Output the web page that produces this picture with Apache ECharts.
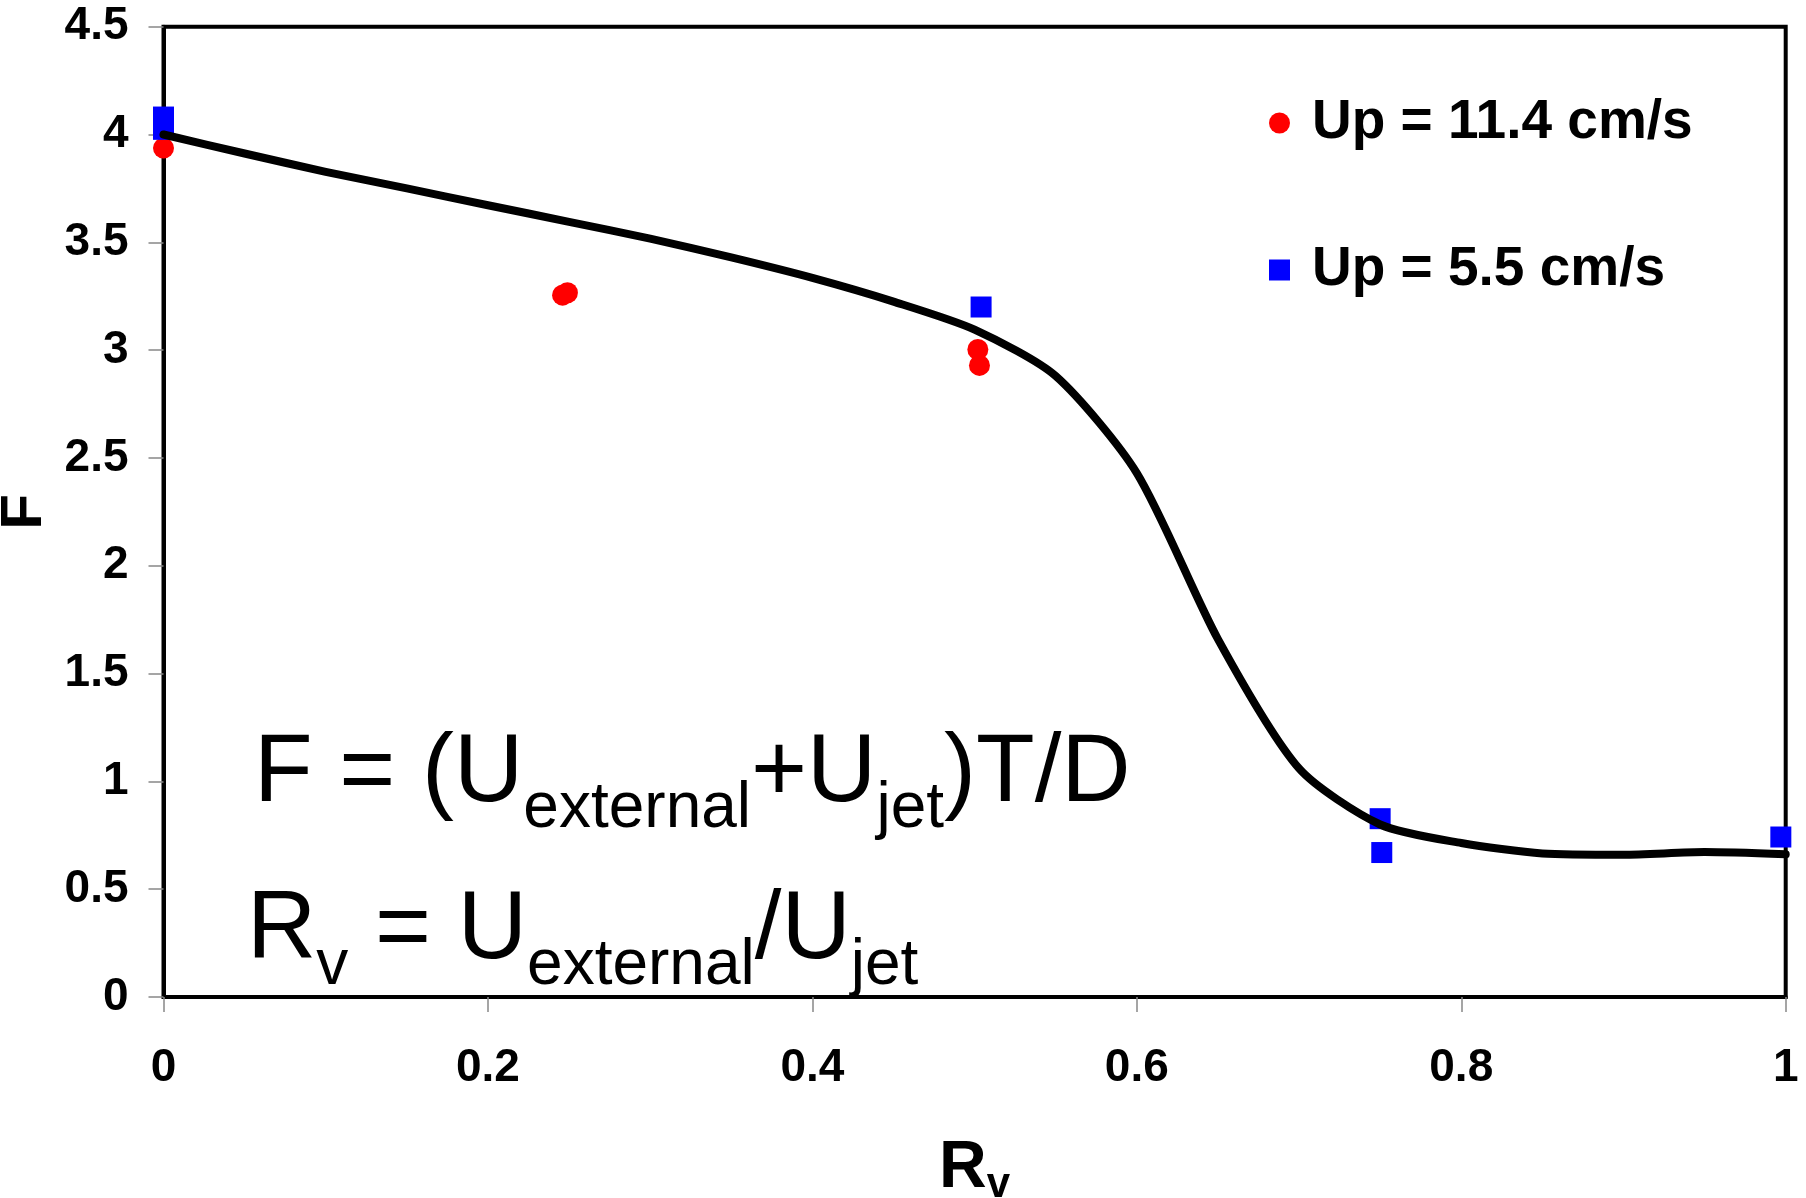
<!DOCTYPE html>
<html>
<head>
<meta charset="utf-8">
<script src="https://cdn.jsdelivr.net/npm/echarts@6/dist/echarts.min.js"></script>
<style>
  html, body { margin: 0; padding: 0; background: #fff; }
  #chart { width: 1806px; height: 1198px; }
</style>
</head>
<body>
<div id="chart"></div>
<script>
  // fitted curve, every 0.05
  const fitRv = [0, 0.05, 0.1, 0.15, 0.2, 0.25, 0.3, 0.35, 0.4, 0.45, 0.5, 0.55, 0.6, 0.65, 0.7, 0.75, 0.8, 0.85, 0.9, 0.95, 1.0];
  const fitF = [4.0, 3.912, 3.827, 3.75, 3.672, 3.595, 3.517, 3.43, 3.335, 3.225, 3.095, 2.88, 2.43, 1.66, 1.06, 0.8, 0.714, 0.666, 0.66, 0.672, 0.662];

  // Up = 11.4 cm/s
  const highRv = [0, 0.246, 0.249, 0.502, 0.503];
  const highF = [3.937, 3.255, 3.266, 3.003, 2.929];

  // Up = 5.5 cm/s
  const lowRv = [0, 0, 0.504, 0.75, 0.751, 0.997];
  const lowF = [4.081, 4.024, 3.2, 0.827, 0.67, 0.742];

  const seriesNames = ['Up = 11.4 cm/s', 'Up = 5.5 cm/s'];

  const font = "'Liberation Sans', Arial, sans-serif";
  const pairs = (xs, ys) => xs.map((x, i) => [x, ys[i]]);

  const chart = echarts.init(document.getElementById('chart'));

  const formulaRich = {
    m: { fontSize: 96, verticalAlign: 'top', fontFamily: font, color: '#000' },
    s: { fontSize: 64, verticalAlign: 'top', padding: [50, 0, 0, 0], fontFamily: font, color: '#000' },
  };

  const option = {
    animation: false,
    backgroundColor: '#fff',
    grid: {
      left: 163.5,
      right: 20.3,
      top: 26.7,
      bottom: 201,
      containLabel: false,
      outerBoundsMode: 'none',
      show: true,
      borderColor: '#000',
      borderWidth: 4,
    },
    legend: {
      orient: 'vertical',
      left: 1264,
      top: 88,
      itemWidth: 21,
      itemHeight: 21,
      itemGap: 87,
      data: [
        { name: seriesNames[0], icon: 'circle' },
        { name: seriesNames[1], icon: 'rect' },
      ],
      textStyle: {
        fontSize: 55,
        lineHeight: 60,
        fontWeight: 'bold',
        fontFamily: font,
        color: '#000',
        padding: [0, 0, 0, 17],
      },
    },
    xAxis: {
      type: 'value',
      min: 0,
      max: 1,
      interval: 0.2,
      name: '{r|R}{v|v}',
      nameLocation: 'middle',
      nameGap: 139,
      nameTextStyle: {
        rich: {
          r: { fontSize: 66, fontWeight: 'bold', fontFamily: font, color: '#000', verticalAlign: 'top' },
          v: { fontSize: 42, fontWeight: 'bold', fontFamily: font, color: '#000', verticalAlign: 'top', padding: [28, 0, 0, 0] },
        },
      },
      axisLine: { show: true, onZero: false, lineStyle: { color: '#000', width: 4 } },
      axisTick: { show: true, length: 15, lineStyle: { color: '#888', width: 1.5 } },
      axisLabel: {
        margin: 48,
        fontSize: 46,
        fontWeight: 'bold',
        fontFamily: font,
        color: '#000',
        formatter: (v) => String(Math.round(v * 10) / 10),
      },
      splitLine: { show: false },
    },
    yAxis: {
      type: 'value',
      min: 0,
      max: 4.5,
      interval: 0.5,
      name: 'F',
      nameLocation: 'middle',
      nameRotate: 90,
      nameGap: 89,
      nameTextStyle: { fontSize: 58, fontWeight: 'bold', fontFamily: font, color: '#000' },
      axisLine: { show: true, onZero: false, lineStyle: { color: '#000', width: 4 } },
      axisTick: { show: true, length: 15, lineStyle: { color: '#888', width: 1.5 } },
      axisLabel: {
        margin: 35,
        fontSize: 46,
        fontWeight: 'bold',
        fontFamily: font,
        color: '#000',
        formatter: (v) => String(Math.round(v * 10) / 10),
      },
      splitLine: { show: false },
    },
    graphic: [
      {
        type: 'text',
        x: 254,
        y: 727,
        style: {
          text: '{m|F = (U}{s|external}{m|+U}{s|jet}{m|)T/D}',
          rich: formulaRich,
          align: 'left',
          verticalAlign: 'top',
        },
      },
      {
        type: 'text',
        x: 247,
        y: 884,
        style: {
          text: '{m|R}{s|v}{m| = U}{s|external}{m|/U}{s|jet}',
          rich: formulaRich,
          align: 'left',
          verticalAlign: 'top',
        },
      },
    ],
    series: [
      {
        name: seriesNames[0],
        type: 'scatter',
        symbol: 'circle',
        symbolSize: 21,
        clip: false,
        itemStyle: { color: '#ff0000', opacity: 1 },
        data: pairs(highRv, highF),
        z: 3,
      },
      {
        name: seriesNames[1],
        type: 'scatter',
        symbol: 'rect',
        symbolSize: 21,
        clip: false,
        itemStyle: { color: '#0000ff', opacity: 1 },
        data: pairs(lowRv, lowF),
        z: 3,
      },
      {
        name: 'fit',
        type: 'line',
        smooth: 0.25,
        showSymbol: false,
        symbol: 'none',
        lineStyle: { color: '#000', width: 8, join: 'round', cap: 'round' },
        data: pairs(fitRv, fitF),
        z: 4,
      },
    ],
  };

  chart.setOption(option);
</script>
</body>
</html>
